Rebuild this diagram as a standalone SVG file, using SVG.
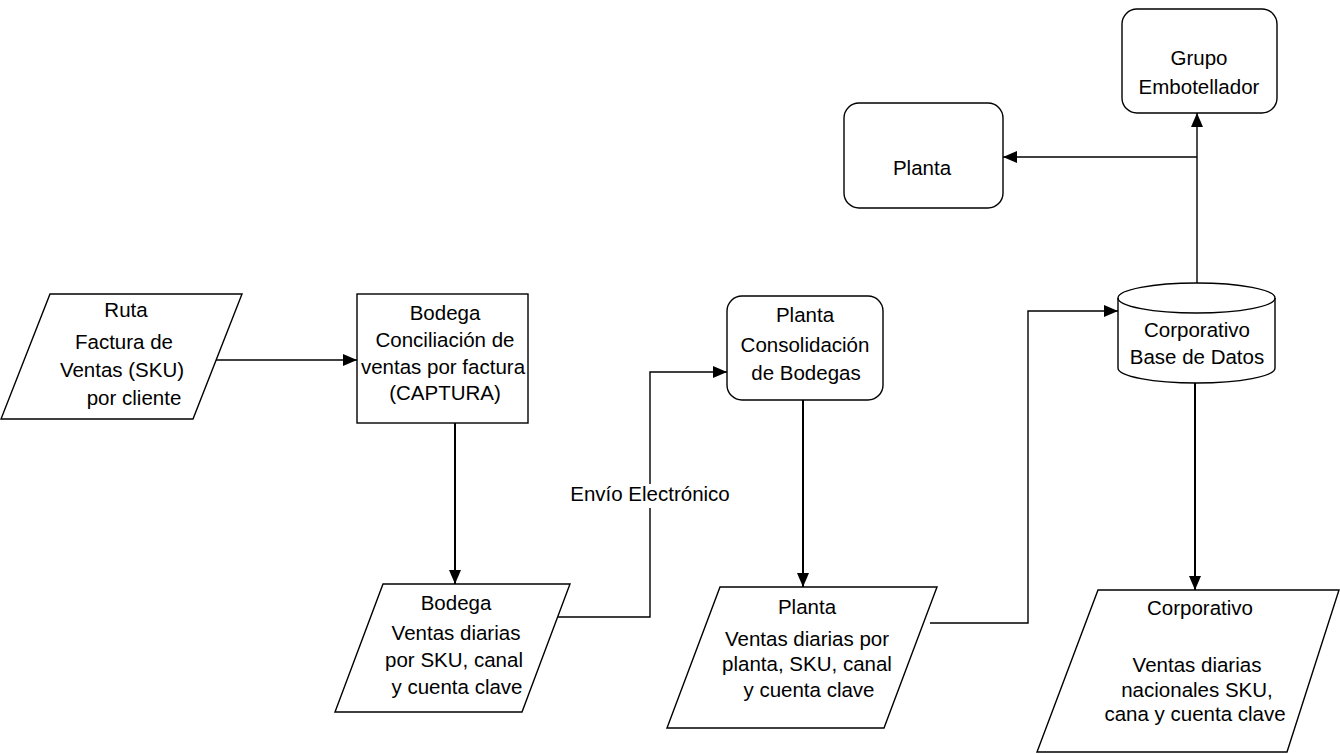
<svg xmlns="http://www.w3.org/2000/svg" width="1340" height="754" viewBox="0 0 1340 754">
  <defs>
    <marker id="arrow" viewBox="0 0 14 12" refX="14" refY="6" markerWidth="14" markerHeight="12" markerUnits="userSpaceOnUse" orient="auto">
      <path d="M0,0 L14,6 L0,12 Z" fill="#000"/>
    </marker>
    <style>
      .shape { fill: #fff; stroke: #000; stroke-width: 1.4; }
      .conn { fill: none; stroke: #000; stroke-width: 1.4; }
      .conn-bold { fill: none; stroke: #000; stroke-width: 2; }
      text { font-family: "Liberation Sans", Arial, sans-serif; font-size: 20.5px; fill: #000; text-anchor: middle; }
    </style>
  </defs>

  <rect width="1340" height="754" fill="#fff"/>

  <!-- connectors -->
  <g id="connectors">
    <line class="conn" x1="215" y1="360" x2="357" y2="360" marker-end="url(#arrow)"/>
    <line class="conn-bold" x1="455" y1="423" x2="455" y2="584" marker-end="url(#arrow)"/>
    <path class="conn" d="M558,617 L650,617 L650,508 M650,484 L650,372 L727,372" marker-end="url(#arrow)"/>
    <line class="conn-bold" x1="803" y1="400" x2="803" y2="587" marker-end="url(#arrow)"/>
    <path class="conn" d="M930,623 L1028,623 L1028,311 L1118,311" marker-end="url(#arrow)"/>
    <line class="conn" x1="1197" y1="283" x2="1197" y2="113" marker-end="url(#arrow)"/>
    <line class="conn" x1="1197" y1="157" x2="1003" y2="157" marker-end="url(#arrow)"/>
    <line class="conn-bold" x1="1195" y1="383" x2="1195" y2="590" marker-end="url(#arrow)"/>
    <text x="650" y="501">Envío Electrónico</text>
  </g>

  <!-- Ruta -->
  <g id="ruta">
    <polygon class="shape" points="50,294 242,294 193,419 1,419"/>
    <text x="126" y="317">Ruta</text>
    <text x="124" y="349">Factura de</text>
    <text x="122" y="377">Ventas (SKU)</text>
    <text x="134" y="405">por cliente</text>
  </g>

  <!-- Bodega conciliación -->
  <g id="bodega-captura">
    <rect class="shape" x="357" y="294" width="171" height="129"/>
    <text x="445" y="320">Bodega</text>
    <text x="445" y="347">Conciliación de</text>
    <text x="443" y="374">ventas por factura</text>
    <text x="445" y="400">(CAPTURA)</text>
  </g>

  <!-- Bodega ventas diarias -->
  <g id="bodega-ventas">
    <polygon class="shape" points="383,584 570,584 522,712 335,712"/>
    <text x="456" y="610">Bodega</text>
    <text x="456" y="640">Ventas diarias</text>
    <text x="454" y="667">por SKU, canal</text>
    <text x="457" y="694">y cuenta clave</text>
  </g>

  <!-- Planta consolidación -->
  <g id="planta-consolidacion">
    <rect class="shape" x="727" y="296" width="156" height="104" rx="15" ry="15"/>
    <text x="805" y="322">Planta</text>
    <text x="805" y="352">Consolidación</text>
    <text x="806" y="380">de Bodegas</text>
  </g>

  <!-- Planta ventas diarias -->
  <g id="planta-ventas">
    <polygon class="shape" points="720,587 937,587 884,728 667,728"/>
    <text x="807" y="614">Planta</text>
    <text x="807" y="646">Ventas diarias por</text>
    <text x="807" y="671">planta, SKU, canal</text>
    <text x="809" y="697">y cuenta clave</text>
  </g>

  <!-- Corporativo base de datos -->
  <g id="corporativo-bd">
    <path class="shape" d="M1118,298 L1118,368 A78.5,15 0 0 0 1275,368 L1275,298 A78.5,15 0 0 0 1118,298 Z"/>
    <path class="conn" d="M1118,298 A78.5,15 0 0 0 1275,298"/>
    <text x="1197" y="337">Corporativo</text>
    <text x="1197" y="364">Base de Datos</text>
  </g>

  <!-- Planta -->
  <g id="planta">
    <rect class="shape" x="844" y="103" width="159" height="105" rx="15" ry="15"/>
    <text x="922" y="175">Planta</text>
  </g>

  <!-- Grupo Embotellador -->
  <g id="grupo">
    <rect class="shape" x="1122" y="9" width="155" height="104" rx="15" ry="15"/>
    <text x="1199" y="65">Grupo</text>
    <text x="1199" y="94">Embotellador</text>
  </g>

  <!-- Corporativo ventas -->
  <g id="corporativo-ventas">
    <polygon class="shape" points="1098,590 1339,590 1287,752 1037,752"/>
    <text x="1200" y="615">Corporativo</text>
    <text x="1197" y="672">Ventas diarias</text>
    <text x="1197" y="697">nacionales SKU,</text>
    <text x="1195" y="721">cana y cuenta clave</text>
  </g>
</svg>
